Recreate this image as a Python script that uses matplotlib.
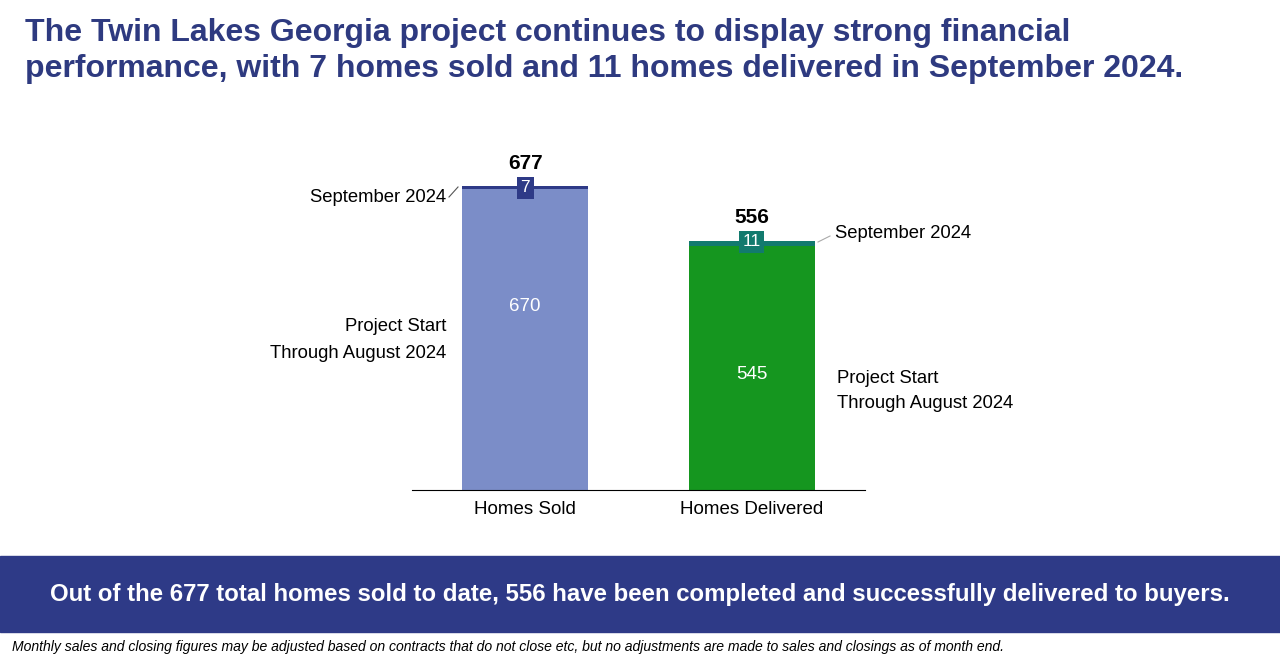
import matplotlib
matplotlib.use("Agg")
import matplotlib.pyplot as plt
from matplotlib.patches import Rectangle

plt.rcParams['font.family'] = ['Liberation Sans', 'DejaVu Sans']

categories = ["Homes Sold", "Homes Delivered"]
through_aug = [670, 545]
september = [7, 11]
totals = [677, 556]
base_colors = ["#7B8DC8", "#15961F"]
top_colors = ["#2E3A87", "#127A6E"]

W, H = 1280, 660
fig = plt.figure(figsize=(12.8, 6.6), dpi=100)
def fx(px): return px / W
def fy(py): return 1 - py / H

ax = fig.add_axes([fx(412), fy(490), fx(865) - fx(412), (490 - 176) / H])
x = [0, 1]
ax.bar(x, through_aug, width=0.556, color=base_colors, zorder=2)
ax.bar(x, september, bottom=through_aug, width=0.556, color=top_colors, zorder=2)
ax.set_xlim(-0.5, 1.5)
ax.set_ylim(0, 700)
for s in ["top", "right", "left"]:
    ax.spines[s].set_visible(False)
ax.spines["bottom"].set_color("#000000")
ax.set_yticks([])
ax.set_xticks(x)
ax.set_xticklabels(categories, fontsize=13.5)
ax.tick_params(axis="x", length=0, pad=8)

label_offsets = [75, -15]
for i in x:
    ax.text(i, through_aug[i] / 2 + label_offsets[i], str(through_aug[i]),
            ha="center", va="center", color="white", fontsize=13.5)
    ax.text(i, totals[i] + 30, str(totals[i]), ha="center", va="bottom",
            fontsize=15, fontweight="bold")
    ax.text(i, totals[i] - 3, str(september[i]), ha="center", va="center",
            color="white", fontsize=12.5,
            bbox=dict(boxstyle="square,pad=0.2", fc=top_colors[i], ec="none"))

fig.text(fx(446), fy(197), "September 2024", ha="right", va="center", fontsize=13.3)
fig.add_artist(plt.Line2D([fx(449), fx(458)], [fy(197), fy(187)], color="#555555", lw=0.8))
fig.text(fx(446), fy(340), "Project Start\nThrough August 2024", ha="right", va="center",
         fontsize=13.3, linespacing=1.8, multialignment="right")
fig.text(fx(835), fy(234), "September 2024", ha="left", va="center", fontsize=13.3)
fig.add_artist(plt.Line2D([fx(818), fx(830)], [fy(242), fy(236)], color="#AAAAAA", lw=0.8))
fig.text(fx(837), fy(391), "Project Start\nThrough August 2024", ha="left", va="center",
         fontsize=13.3, linespacing=1.6)

fig.text(fx(25), fy(18), "The Twin Lakes Georgia project continues to display strong financial\n"
         "performance, with 7 homes sold and 11 homes delivered in September 2024.",
         ha="left", va="top", fontsize=23, fontweight="bold", color="#2E3A80", linespacing=1.25)

fig.add_artist(Rectangle((0, fy(632)), 1, (632 - 556) / H, transform=fig.transFigure,
                         color="#2E3A87", zorder=0))
fig.text(0.5, fy(595), "Out of the 677 total homes sold to date, 556 have been completed and "
         "successfully delivered to buyers.", ha="center", va="center", color="white",
         fontsize=17.3, fontweight="bold")
fig.text(fx(12), fy(647), "Monthly sales and closing figures may be adjusted based on contracts that do "
         "not close etc, but no adjustments are made to sales and closings as of month end.",
         ha="left", va="center", fontsize=10.1, style="italic")

fig.savefig("out.png", dpi=100)
